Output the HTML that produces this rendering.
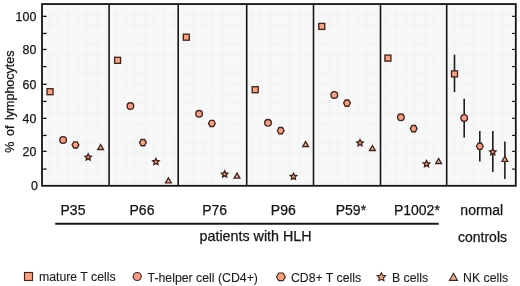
<!DOCTYPE html>
<html><head><meta charset="utf-8"><style>
html,body{margin:0;padding:0;background:#fff;}
body{width:520px;height:286px;overflow:hidden;}
svg{display:block;will-change:transform;}
text{font-family:"Liberation Sans",sans-serif;fill:#141414;stroke:#141414;stroke-width:0.25px;}
text.lg{fill:#1c1c1c;stroke:#1c1c1c;stroke-width:0.12px;}
</style></head><body>
<svg width="520" height="286" viewBox="0 0 520 286">
<defs><linearGradient id="gv" x1="0" x2="1" y1="0" y2="0"><stop offset="0" stop-color="#f5f5f5" stop-opacity="0"/><stop offset="0.5" stop-color="#f5f5f5" stop-opacity="1"/><stop offset="1" stop-color="#f5f5f5" stop-opacity="0"/></linearGradient><linearGradient id="gh" x1="0" x2="0" y1="0" y2="1"><stop offset="0" stop-color="#f5f5f5" stop-opacity="0"/><stop offset="0.5" stop-color="#f5f5f5" stop-opacity="1"/><stop offset="1" stop-color="#f5f5f5" stop-opacity="0"/></linearGradient><pattern id="bg" x="-2.1" y="2.4" width="9.65" height="9.88" patternUnits="userSpaceOnUse"><rect width="9.65" height="9.88" fill="#f9f9f9"/><rect x="0" y="0" width="5" height="9.88" fill="url(#gv)"/><rect x="0" y="0" width="9.65" height="5" fill="url(#gh)"/></pattern></defs>
<rect x="42.0" y="4.05" width="473.79999999999995" height="181.75" fill="url(#bg)"/>
<line x1="454.5" y1="54.7" x2="454.5" y2="92.2" stroke="#1e1e1e" stroke-width="1.6"/>
<line x1="464.2" y1="98.7" x2="464.2" y2="137.5" stroke="#1e1e1e" stroke-width="1.6"/>
<line x1="479.8" y1="131.1" x2="479.8" y2="161.4" stroke="#1e1e1e" stroke-width="1.6"/>
<line x1="492.8" y1="131.1" x2="492.8" y2="172.0" stroke="#1e1e1e" stroke-width="1.6"/>
<line x1="504.9" y1="141.6" x2="504.9" y2="179.0" stroke="#1e1e1e" stroke-width="1.6"/>
<line x1="109.1" y1="4.05" x2="109.1" y2="185.8" stroke="#141414" stroke-width="1.6"/>
<line x1="178.2" y1="4.05" x2="178.2" y2="185.8" stroke="#141414" stroke-width="1.6"/>
<line x1="246.7" y1="4.05" x2="246.7" y2="185.8" stroke="#141414" stroke-width="1.6"/>
<line x1="313.5" y1="4.05" x2="313.5" y2="185.8" stroke="#141414" stroke-width="1.6"/>
<line x1="380.5" y1="4.05" x2="380.5" y2="185.8" stroke="#141414" stroke-width="1.6"/>
<line x1="446.7" y1="4.05" x2="446.7" y2="185.8" stroke="#141414" stroke-width="1.6"/>
<line x1="42.0" y1="169.10" x2="46.6" y2="169.10" stroke="#141414" stroke-width="1.3"/>
<line x1="512.0999999999999" y1="169.10" x2="515.8" y2="169.10" stroke="#141414" stroke-width="1.2"/>
<line x1="42.0" y1="151.36" x2="46.6" y2="151.36" stroke="#141414" stroke-width="1.3"/>
<line x1="512.0999999999999" y1="151.36" x2="515.8" y2="151.36" stroke="#141414" stroke-width="1.2"/>
<line x1="42.0" y1="135.44" x2="46.6" y2="135.44" stroke="#141414" stroke-width="1.3"/>
<line x1="512.0999999999999" y1="135.44" x2="515.8" y2="135.44" stroke="#141414" stroke-width="1.2"/>
<line x1="42.0" y1="118.34" x2="46.6" y2="118.34" stroke="#141414" stroke-width="1.3"/>
<line x1="512.0999999999999" y1="118.34" x2="515.8" y2="118.34" stroke="#141414" stroke-width="1.2"/>
<line x1="42.0" y1="101.44" x2="46.6" y2="101.44" stroke="#141414" stroke-width="1.3"/>
<line x1="512.0999999999999" y1="101.44" x2="515.8" y2="101.44" stroke="#141414" stroke-width="1.2"/>
<line x1="42.0" y1="84.34" x2="46.6" y2="84.34" stroke="#141414" stroke-width="1.3"/>
<line x1="512.0999999999999" y1="84.34" x2="515.8" y2="84.34" stroke="#141414" stroke-width="1.2"/>
<line x1="42.0" y1="66.60" x2="46.6" y2="66.60" stroke="#141414" stroke-width="1.3"/>
<line x1="512.0999999999999" y1="66.60" x2="515.8" y2="66.60" stroke="#141414" stroke-width="1.2"/>
<line x1="42.0" y1="49.44" x2="46.6" y2="49.44" stroke="#141414" stroke-width="1.3"/>
<line x1="512.0999999999999" y1="49.44" x2="515.8" y2="49.44" stroke="#141414" stroke-width="1.2"/>
<line x1="42.0" y1="33.44" x2="46.6" y2="33.44" stroke="#141414" stroke-width="1.3"/>
<line x1="512.0999999999999" y1="33.44" x2="515.8" y2="33.44" stroke="#141414" stroke-width="1.2"/>
<line x1="42.0" y1="16.36" x2="46.6" y2="16.36" stroke="#141414" stroke-width="1.3"/>
<line x1="512.0999999999999" y1="16.36" x2="515.8" y2="16.36" stroke="#141414" stroke-width="1.2"/>
<rect x="42.0" y="4.05" width="473.79999999999995" height="181.75" fill="none" stroke="#141414" stroke-width="1.8"/>
<rect x="47.05" y="88.70" width="6.00" height="6.00" fill="#f4a488" stroke="#44251b" stroke-width="1.35"/>
<circle cx="63.10" cy="139.90" r="3.30" fill="#f2a08e" stroke="#44251b" stroke-width="1.35"/>
<polygon points="72.15,144.90 73.83,141.80 77.17,141.80 78.85,144.90 77.17,148.00 73.83,148.00" fill="#f2a488" stroke="#44251b" stroke-width="1.35"/>
<polygon points="88.20,153.85 89.18,155.84 91.39,156.16 89.79,157.72 90.17,159.91 88.20,158.88 86.23,159.91 86.61,157.72 85.01,156.16 87.22,155.84" fill="#dc9c84" stroke="#44251b" stroke-width="1.35" stroke-linejoin="miter"/>
<polygon points="100.60,144.55 103.45,149.45 97.75,149.45" fill="#eac0ac" stroke="#44251b" stroke-width="1.35"/>
<rect x="114.60" y="57.30" width="6.00" height="6.00" fill="#f4a488" stroke="#44251b" stroke-width="1.35"/>
<circle cx="130.40" cy="106.00" r="3.30" fill="#f2a08e" stroke="#44251b" stroke-width="1.35"/>
<polygon points="139.55,142.60 141.22,139.50 144.58,139.50 146.25,142.60 144.58,145.70 141.22,145.70" fill="#f2a488" stroke="#44251b" stroke-width="1.35"/>
<polygon points="155.90,158.45 156.88,160.44 159.09,160.76 157.49,162.32 157.87,164.51 155.90,163.48 153.93,164.51 154.31,162.32 152.71,160.76 154.92,160.44" fill="#dc9c84" stroke="#44251b" stroke-width="1.35" stroke-linejoin="miter"/>
<polygon points="168.40,177.95 171.25,182.85 165.55,182.85" fill="#eac0ac" stroke="#44251b" stroke-width="1.35"/>
<rect x="183.30" y="34.20" width="6.00" height="6.00" fill="#f4a488" stroke="#44251b" stroke-width="1.35"/>
<circle cx="199.10" cy="113.80" r="3.30" fill="#f2a08e" stroke="#44251b" stroke-width="1.35"/>
<polygon points="208.55,123.40 210.22,120.30 213.58,120.30 215.25,123.40 213.58,126.50 210.22,126.50" fill="#f2a488" stroke="#44251b" stroke-width="1.35"/>
<polygon points="224.70,170.85 225.68,172.84 227.89,173.16 226.29,174.72 226.67,176.91 224.70,175.88 222.73,176.91 223.11,174.72 221.51,173.16 223.72,172.84" fill="#dc9c84" stroke="#44251b" stroke-width="1.35" stroke-linejoin="miter"/>
<polygon points="237.00,173.15 239.85,178.05 234.15,178.05" fill="#eac0ac" stroke="#44251b" stroke-width="1.35"/>
<rect x="252.20" y="86.70" width="6.00" height="6.00" fill="#f4a488" stroke="#44251b" stroke-width="1.35"/>
<circle cx="268.00" cy="122.80" r="3.30" fill="#f2a08e" stroke="#44251b" stroke-width="1.35"/>
<polygon points="277.35,130.60 279.02,127.50 282.38,127.50 284.05,130.60 282.38,133.70 279.02,133.70" fill="#f2a488" stroke="#44251b" stroke-width="1.35"/>
<polygon points="293.50,173.25 294.48,175.24 296.69,175.56 295.09,177.12 295.47,179.31 293.50,178.28 291.53,179.31 291.91,177.12 290.31,175.56 292.52,175.24" fill="#dc9c84" stroke="#44251b" stroke-width="1.35" stroke-linejoin="miter"/>
<polygon points="305.60,141.55 308.45,146.45 302.75,146.45" fill="#eac0ac" stroke="#44251b" stroke-width="1.35"/>
<rect x="318.80" y="23.40" width="6.00" height="6.00" fill="#f4a488" stroke="#44251b" stroke-width="1.35"/>
<circle cx="334.30" cy="94.90" r="3.30" fill="#f2a08e" stroke="#44251b" stroke-width="1.35"/>
<polygon points="343.65,103.10 345.32,100.00 348.68,100.00 350.35,103.10 348.68,106.20 345.32,106.20" fill="#f2a488" stroke="#44251b" stroke-width="1.35"/>
<polygon points="360.00,139.65 360.98,141.64 363.19,141.96 361.59,143.52 361.97,145.71 360.00,144.68 358.03,145.71 358.41,143.52 356.81,141.96 359.02,141.64" fill="#dc9c84" stroke="#44251b" stroke-width="1.35" stroke-linejoin="miter"/>
<polygon points="372.40,145.55 375.25,150.45 369.55,150.45" fill="#eac0ac" stroke="#44251b" stroke-width="1.35"/>
<rect x="384.90" y="55.10" width="6.00" height="6.00" fill="#f4a488" stroke="#44251b" stroke-width="1.35"/>
<circle cx="400.90" cy="117.30" r="3.30" fill="#f2a08e" stroke="#44251b" stroke-width="1.35"/>
<polygon points="410.35,128.60 412.02,125.50 415.38,125.50 417.05,128.60 415.38,131.70 412.02,131.70" fill="#f2a488" stroke="#44251b" stroke-width="1.35"/>
<polygon points="426.50,160.65 427.48,162.64 429.69,162.96 428.09,164.52 428.47,166.71 426.50,165.68 424.53,166.71 424.91,164.52 423.31,162.96 425.52,162.64" fill="#dc9c84" stroke="#44251b" stroke-width="1.35" stroke-linejoin="miter"/>
<polygon points="438.60,158.55 441.45,163.45 435.75,163.45" fill="#eac0ac" stroke="#44251b" stroke-width="1.35"/>
<rect x="451.50" y="70.90" width="6.00" height="6.00" fill="#f4a488" stroke="#44251b" stroke-width="1.35"/>
<circle cx="464.20" cy="117.90" r="3.30" fill="#f2a08e" stroke="#44251b" stroke-width="1.35"/>
<polygon points="476.45,146.30 478.12,143.20 481.48,143.20 483.15,146.30 481.48,149.40 478.12,149.40" fill="#f2a488" stroke="#44251b" stroke-width="1.35"/>
<polygon points="492.80,148.65 493.78,150.64 495.99,150.96 494.39,152.52 494.77,154.71 492.80,153.68 490.83,154.71 491.21,152.52 489.61,150.96 491.82,150.64" fill="#dc9c84" stroke="#44251b" stroke-width="1.35" stroke-linejoin="miter"/>
<polygon points="504.90,156.45 507.75,161.35 502.05,161.35" fill="#eac0ac" stroke="#44251b" stroke-width="1.35"/>
<text x="37.8" y="190.40" text-anchor="end" font-size="12.4">0</text>
<text x="36.3" y="155.96" text-anchor="end" font-size="12.4">20</text>
<text x="36.3" y="122.94" text-anchor="end" font-size="12.4">40</text>
<text x="36.3" y="88.94" text-anchor="end" font-size="12.4">60</text>
<text x="36.3" y="54.04" text-anchor="end" font-size="12.4">80</text>
<text x="36.3" y="20.96" text-anchor="end" font-size="12.4">100</text>
<text transform="translate(13.7,152.7) rotate(-90)" font-size="12.5" word-spacing="2.1">% of lymphocytes</text>
<text x="73.0" y="214.8" text-anchor="middle" font-size="14">P35</text>
<text x="142.0" y="214.8" text-anchor="middle" font-size="14">P66</text>
<text x="214.7" y="214.8" text-anchor="middle" font-size="14">P76</text>
<text x="283.3" y="214.8" text-anchor="middle" font-size="14">P96</text>
<text x="350.9" y="214.8" text-anchor="middle" font-size="14">P59*</text>
<text x="416.9" y="214.8" text-anchor="middle" font-size="14">P1002*</text>
<text x="481.75" y="214.8" text-anchor="middle" font-size="14">normal</text>
<line x1="55.2" y1="223.8" x2="438.7" y2="223.8" stroke="#1a1a1a" stroke-width="1.9"/>
<text x="255.6" y="241.3" text-anchor="middle" font-size="14.3">patients with HLH</text>
<text x="482.5" y="241.5" text-anchor="middle" font-size="14">controls</text>
<rect x="24.50" y="272.50" width="8.00" height="8.00" fill="#f7a582" stroke="#44251b" stroke-width="1.15"/>
<text x="38.9" y="280.9" font-size="12.3" class="lg">mature T cells</text>
<circle cx="137.25" cy="276.50" r="4.00" fill="#f39c8c" stroke="#44251b" stroke-width="1.15"/>
<text x="147.6" y="281.7" font-size="12.3" class="lg">T-helper cell (CD4+)</text>
<polygon points="276.50,276.75 278.70,272.95 283.10,272.95 285.30,276.75 283.10,280.55 278.70,280.55" fill="#f5a47f" stroke="#44251b" stroke-width="1.15"/>
<text x="290.9" y="281.7" font-size="12.3" class="lg">CD8+ T cells</text>
<polygon points="381.35,272.70 382.64,275.32 385.53,275.74 383.44,277.78 383.94,280.66 381.35,279.30 378.76,280.66 379.26,277.78 377.17,275.74 380.06,275.32" fill="#e2a284" stroke="#44251b" stroke-width="1.15" stroke-linejoin="miter"/>
<text x="391.9" y="281.7" font-size="12.3" class="lg">B cells</text>
<polygon points="453.45,273.40 457.45,280.30 449.45,280.30" fill="#e8b4a2" stroke="#44251b" stroke-width="1.15"/>
<text x="463.0" y="281.7" font-size="12.3" class="lg">NK cells</text>
</svg>
</body></html>
